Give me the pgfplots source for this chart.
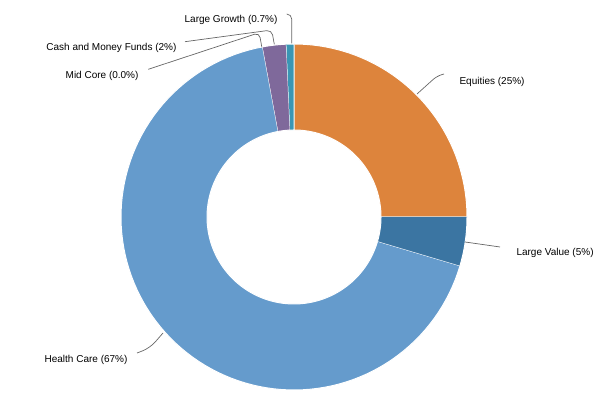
\documentclass[border=0pt]{standalone}
\usepackage{fontspec}
\setmainfont{Liberation Sans}
\usepackage{pgfplots}
\pgfplotsset{compat=1.18}
\definecolor{cEq}{RGB}{221,132,60}
\definecolor{cLV}{RGB}{59,117,162}
\definecolor{cHC}{RGB}{101,155,204}
\definecolor{cMC}{RGB}{90,160,90}
\definecolor{cCash}{RGB}{127,105,155}
\definecolor{cLG}{RGB}{58,150,180}
\definecolor{txt}{RGB}{51,51,51}
\definecolor{lead}{RGB}{102,102,102}
% ring segment from cumulative percent #1 to #2
\newcommand\slice[3]{%
  \addplot[fill=#3, draw=white, line width=1pt, domain=0:2, samples=201, variable=\t]
  ({294 + (\t<1.005 ? 173 : 87)*cos(90-3.6*(\t<1.005 ? #1+(#2-#1)*min(\t,1) : #2-(#2-#1)*(\t-1.01)/0.99))},
   {189 + (\t<1.005 ? 173 : 87)*sin(90-3.6*(\t<1.005 ? #1+(#2-#1)*min(\t,1) : #2-(#2-#1)*(\t-1.01)/0.99))});
}
\begin{document}
\begin{tikzpicture}
\begin{axis}[width=613pt, height=406pt, scale only axis,
  xmin=0, xmax=613, ymin=0, ymax=406, hide axis, clip=false,
  every node/.style={font=\fontsize{11}{13}\selectfont, text=txt, inner sep=0pt}]
% shares: Equities 25.0, Large Value 4.6, Health Care 67.5, Mid Core 0.0, Cash 2.2, Large Growth 0.7
\slice{0}{25}{cEq}
\slice{25}{29.6}{cLV}
\slice{29.6}{97.1}{cHC}
\slice{97.1}{99.3}{cCash}
\slice{99.3}{100}{cLG}
% leader lines
\addplot[lead, line width=0.7pt, rounded corners=5pt] coordinates {(417,312) (437,330) (444,332)};
\addplot[lead, line width=0.7pt] coordinates {(465,164) (500,159)};
\addplot[lead, line width=0.7pt, rounded corners=8pt] coordinates {(163,73) (150,58) (137,53)};
\addplot[lead, line width=0.7pt, rounded corners=5pt] coordinates {(261.7,359.3) (259.3,373.3) (148.3,336.7)};
\addplot[lead, line width=0.7pt, rounded corners=5pt] coordinates {(274.3,361.7) (271.7,376) (185,364.3)};
\addplot[lead, line width=0.7pt, rounded corners=5pt] coordinates {(291.7,362.7) (291.7,392) (286.7,392)};
% labels
\node[anchor=west] at (axis cs:456,324) {Equities (25\%)};
\node[anchor=west] at (axis cs:513,153) {Large Value (5\%)};
\node[anchor=east] at (axis cs:131,46) {Health Care (67\%)};
\node[anchor=east] at (axis cs:142,330) {Mid Core (0.0\%)};
\node[anchor=east] at (axis cs:180,358) {Cash and Money Funds (2\%)};
\node[anchor=east] at (axis cs:281,386) {Large Growth (0.7\%)};
\end{axis}
\pgfresetboundingbox
\path (current axis.south west) rectangle (current axis.north east);
\end{tikzpicture}
\end{document}
